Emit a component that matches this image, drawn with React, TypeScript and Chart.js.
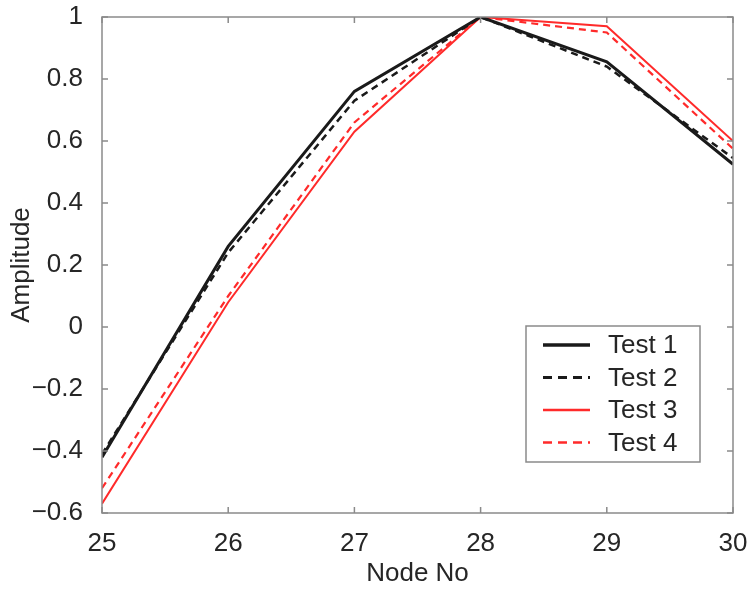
import React, { useEffect, useRef } from "react";
import { Chart, registerables } from "chart.js";

Chart.register(...registerables);

const nodes = [25, 26, 27, 28, 29, 30];
const test1 = [-0.42, 0.26, 0.76, 1.0, 0.855, 0.525];
const test2 = [-0.41, 0.24, 0.73, 1.0, 0.84, 0.545];
const test3 = [-0.57, 0.08, 0.63, 1.0, 0.97, 0.6];
const test4 = [-0.52, 0.1, 0.66, 1.0, 0.95, 0.575];
const seriesNames = ["Test 1", "Test 2", "Test 3", "Test 4"];
const yTicks = [-0.6, -0.4, -0.2, 0, 0.2, 0.4, 0.6, 0.8, 1];

const FONT = "'Liberation Sans', Arial, Helvetica, sans-serif";
const FS = 26;
const AXIS = "#8a8a8a";
const TEXT = "#262626";

const styles = [
  { color: "#1a1a1a", width: 3, dash: [] as number[] },
  { color: "#1a1a1a", width: 2.5, dash: [7, 5] },
  { color: "#ff2a2a", width: 2, dash: [] as number[] },
  { color: "#ff2a2a", width: 2.2, dash: [7, 5] },
];

const boxPlugin = {
  id: "boxPlugin",
  afterDraw(chart: any) {
    const { ctx, chartArea } = chart;
    const { left, right, top, bottom } = chartArea;
    const xs = chart.scales.x;
    const ys = chart.scales.y;
    ctx.save();
    ctx.strokeStyle = AXIS;
    ctx.lineWidth = 1.5;
    ctx.strokeRect(left, top, right - left, bottom - top);
    const tl = 6;
    ctx.beginPath();
    nodes.forEach((n) => {
      const px = xs.getPixelForValue(n);
      ctx.moveTo(px, bottom);
      ctx.lineTo(px, bottom - tl);
      ctx.moveTo(px, top);
      ctx.lineTo(px, top + tl);
    });
    yTicks.forEach((v) => {
      const py = ys.getPixelForValue(v);
      ctx.moveTo(left, py);
      ctx.lineTo(left + tl, py);
      ctx.moveTo(right, py);
      ctx.lineTo(right - tl, py);
    });
    ctx.stroke();

    // legend
    const lx = right - 207;
    const ly = bottom - 187;
    const lw = 174;
    const lh = 136;
    ctx.fillStyle = "#ffffff";
    ctx.fillRect(lx, ly, lw, lh);
    ctx.strokeStyle = AXIS;
    ctx.lineWidth = 1.5;
    ctx.strokeRect(lx, ly, lw, lh);
    ctx.font = `${FS}px ${FONT}`;
    ctx.textBaseline = "middle";
    ctx.textAlign = "left";
    seriesNames.forEach((name, i) => {
      const yy = ly + 19 + i * 32.5;
      const s = styles[i];
      ctx.beginPath();
      ctx.strokeStyle = s.color;
      ctx.lineWidth = s.width + 0.5;
      ctx.setLineDash(s.dash.length ? [9, 6] : []);
      ctx.moveTo(lx + 17, yy);
      ctx.lineTo(lx + 64, yy);
      ctx.stroke();
      ctx.setLineDash([]);
      ctx.fillStyle = TEXT;
      ctx.fillText(name, lx + 82, yy + 1);
    });
    ctx.restore();
  },
};

function fmt(v: number) {
  const s = String(Number(v.toFixed(1)));
  return s.replace("-", "\u2212");
}

function zeroPad(scale: any) {
  scale.paddingLeft = 0;
  scale.paddingRight = 0;
  scale.paddingTop = 0;
  scale.paddingBottom = 0;
}

export default function App() {
  const ref = useRef<HTMLCanvasElement | null>(null);
  useEffect(() => {
    document.body.style.margin = "0";
    const all = [test1, test2, test3, test4];
    const chart = new Chart(ref.current as HTMLCanvasElement, {
      type: "line",
      data: {
        datasets: all.map((arr, i) => ({
          label: seriesNames[i],
          data: arr.map((y, j) => ({ x: nodes[j], y })),
          borderColor: styles[i].color,
          borderWidth: styles[i].width,
          borderDash: styles[i].dash,
          pointRadius: 0,
          fill: false,
          tension: 0,
        })),
      },
      options: {
        responsive: false,
        animation: false,
        layout: { padding: { top: 17, right: 17, left: 0, bottom: 0 } },
        plugins: {
          legend: { display: false },
          tooltip: { enabled: false },
        },
        scales: {
          x: {
            type: "linear",
            min: 25,
            max: 30,
            grid: { display: false },
            border: { display: false },
            ticks: {
              stepSize: 1,
              color: TEXT,
              font: { size: FS, family: FONT },
              padding: 7,
              maxRotation: 0,
            },
            title: {
              display: true,
              text: "Node No",
              color: TEXT,
              font: { size: FS, family: FONT },
              padding: { top: 0, bottom: 0 },
            },
            afterFit(scale: any) {
              scale.height = 76;
              zeroPad(scale);
            },
          },
          y: {
            min: -0.6,
            max: 1,
            grid: { display: false },
            border: { display: false },
            afterBuildTicks(scale: any) {
              scale.ticks = yTicks.map((v) => ({ value: v }));
            },
            ticks: {
              color: TEXT,
              font: { size: FS, family: FONT },
              padding: 11,
              callback: (v: any) => fmt(Number(v)),
            },
            title: {
              display: true,
              text: "Amplitude",
              color: TEXT,
              font: { size: FS, family: FONT },
              padding: { top: 6, bottom: 0 },
            },
            afterFit(scale: any) {
              scale.width = 102;
              zeroPad(scale);
            },
          },
        },
      },
      plugins: [boxPlugin],
    } as any);
    return () => chart.destroy();
  }, []);
  return <canvas ref={ref} width={750} height={589} style={{ display: "block" }} />;
}
